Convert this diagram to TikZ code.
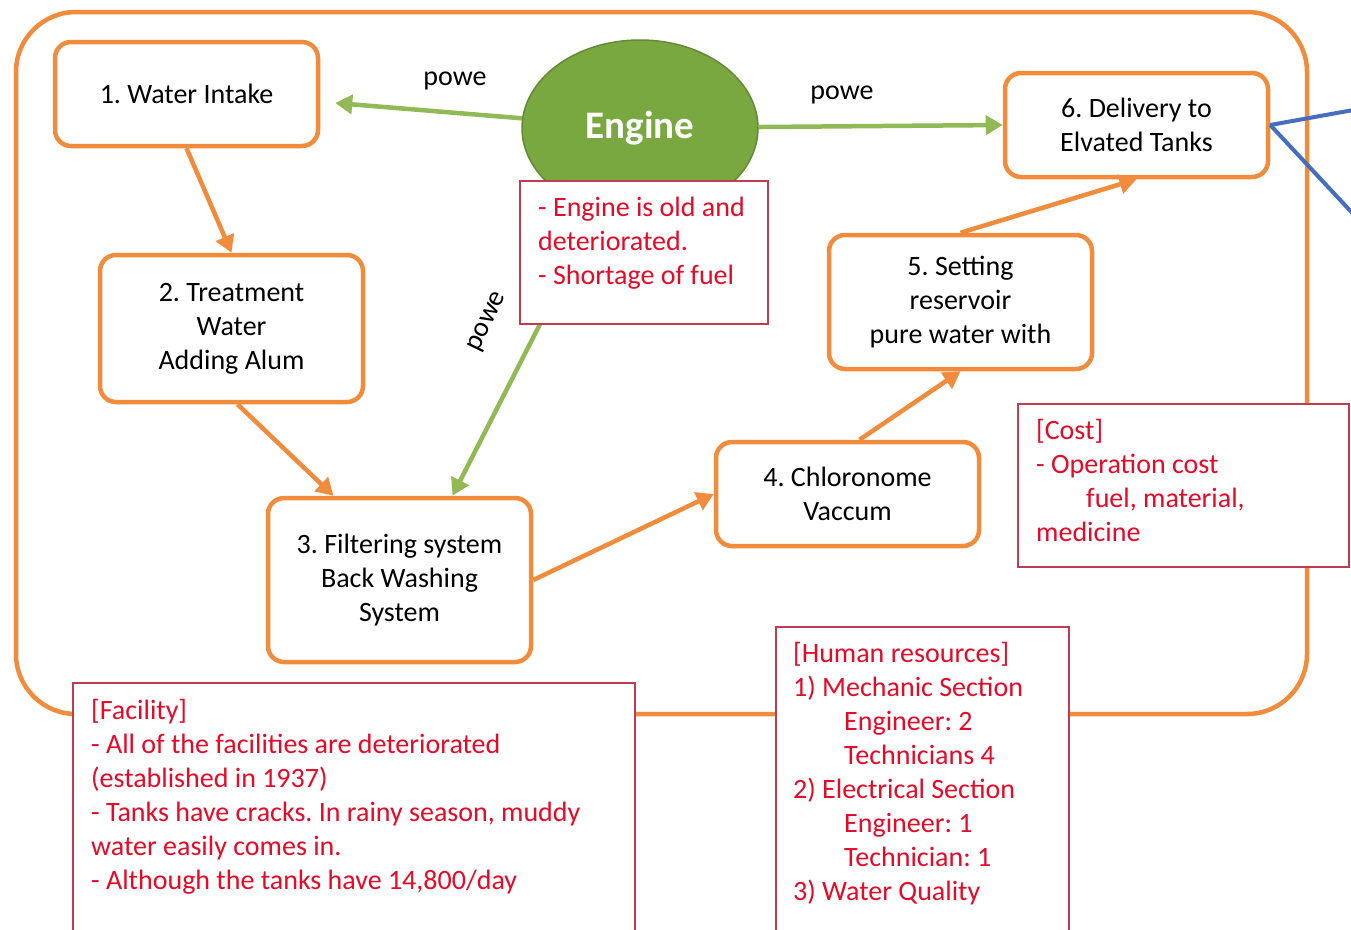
\documentclass[tikz,border=0pt]{standalone}
\usepackage{fontspec}
\setmainfont{Carlito}
\usetikzlibrary{shapes.geometric,arrows.meta,calc}
\definecolor{boxorange}{RGB}{240,140,60}
\definecolor{powgreen}{RGB}{145,185,85}
\definecolor{engfill}{RGB}{122,168,64}
\definecolor{engedge}{RGB}{100,138,52}
\definecolor{noteedge}{RGB}{192,60,80}
\definecolor{notered}{RGB}{228,10,40}
\definecolor{linkblue}{RGB}{70,110,190}
\frenchspacing

\begin{document}
\begin{tikzpicture}[x=1pt,y=-1pt,
  stepbox/.style={draw=boxorange, line width=4.5pt, rounded corners=16pt, fill=white,
    align=center, minimum width=263pt, inner sep=0pt, font=\fontsize{28}{34}\selectfont},
  flow/.style={draw=boxorange, line width=4.5pt, -{Triangle[length=17pt,width=19pt]}},
  power/.style={draw=powgreen, line width=4.5pt, -{Triangle[length=17pt,width=19pt]}},
  notebox/.style={draw=noteedge, line width=2pt, fill=white, inner sep=0pt, anchor=north west},
  notetext/.style={text=notered, align=left, anchor=north west, inner sep=0pt,
    font=\fontsize{28}{34}\selectfont},
  powlabel/.style={font=\fontsize{28}{34}\selectfont, inner sep=0pt}
]
\useasboundingbox (0,0) rectangle (1351,929);
\fill[white] (0,0) rectangle (1351,929);

% outer frame of the plant
\draw[boxorange, line width=4.5pt, rounded corners=60pt] (16,12) rectangle (1307,714);

% process steps
\node[stepbox, minimum height=104pt] (intake) at (186.5,94) {1. Water Intake};
\node[stepbox, minimum height=147pt] (treat) at (231.5,328.5) {2. Treatment\\Water\\Adding Alum};
\node[stepbox, minimum height=164pt] (filter) at (399.5,580) {3. Filtering system\\Back Washing\\System};
\node[stepbox, minimum height=104pt] (chlor) at (847.5,494) {4. Chloronome\\Vaccum};
\node[stepbox, minimum height=134pt] (settle) at (960.5,302) {5. Setting\\reservoir\\pure water with};
\node[stepbox, minimum height=104pt] (deliver) at (1136.5,125) {6. Delivery to\\Elvated Tanks};

% engine
\node[ellipse, draw=engedge, line width=1.5pt, fill=engfill, minimum width=236pt,
  minimum height=176pt, inner sep=0pt, text=white,
  font=\bfseries\fontsize{39}{47}\selectfont] (engine) at (640,128) {\raisebox{-2pt}{Engine}};

% water flow
\draw[flow] (intake.south) -- (treat.north);
\draw[flow] ($(treat.south)+(6,0)$) -- ($(filter.north)+(-66,0)$);
\draw[flow] (filter.east) -- (chlor.west);
\draw[flow] ($(chlor.north)+(12,0)$) -- (settle.south);
\draw[flow] (settle.north) -- (deliver.south);

% power supply
\draw[power] (engine) -- ($(intake.east)+(15,9)$);
\draw[power] (engine) -- (deliver.west);
\draw[power] (engine) -- ($(filter.north)+(53,0)$);
\node[powlabel] (pw1) at (455,81) {powe};
\node[powlabel] (pw2) at (842,95) {powe};
\node[powlabel, rotate=64] (pw3) at (488,322) {powe};

% links out to the tanks
\coordinate (blueA) at (1370,107);
\coordinate (blueB) at (1370,232);
\draw[linkblue, line width=4pt] (deliver.east) -- (blueA);
\draw[linkblue, line width=4pt] (deliver.east) -- (blueB);

% issue notes
\node[notebox, minimum width=248pt, minimum height=143pt] (engnote) at (519,180) {};
\node[notetext] (engnotetxt) at (538,197) {- Engine is old and\\deteriorated.\\- Shortage of fuel};

\node[notebox, minimum width=331pt, minimum height=163pt] (costbox) at (1017,403) {};
\node[notetext] (costtxt) at (1036,419) {[Cost]\\- Operation cost\\\hspace*{50pt}fuel, material,\\medicine};

\node[notebox, minimum width=293pt, minimum height=330pt] (hrbox) at (775,626) {};
\node[notetext] (hrtxt) at (793,642) {[Human resources]\\1) Mechanic Section\\\hspace*{51pt}Engineer: 2\\\hspace*{51pt}Technicians 4\\2) Electrical Section\\\hspace*{51pt}Engineer: 1\\\hspace*{51pt}Technician: 1\\3) Water Quality};

\node[notebox, minimum width=562pt, minimum height=270pt] (facbox) at (72,682) {};
\node[notetext] (factxt) at (91,699) {[Facility]\\- All of the facilities are deteriorated\\(established in 1937)\\- Tanks have cracks. In rainy season, muddy\\water easily comes in.\\- Although the tanks have 14,800/day};
\end{tikzpicture}
\end{document}
